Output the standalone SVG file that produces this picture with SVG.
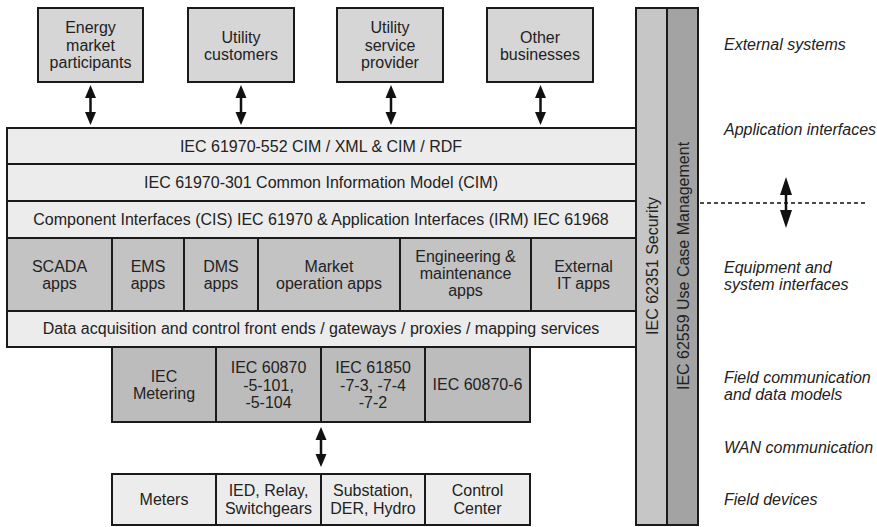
<svg xmlns="http://www.w3.org/2000/svg" width="877" height="527" viewBox="0 0 877 527">
<style>
  text { font-family: "Liberation Sans", Arial, sans-serif; font-size: 16px; fill: #222; text-anchor: middle; }
  .lbl { text-anchor: start; font-style: italic; }
  .ext { fill: #d6d6d6; stroke: #1a1a1a; stroke-width: 2; }
  .layer { fill: #ececec; stroke: #1a1a1a; stroke-width: 2; }
  .app { fill: #c3c3c3; stroke: #1a1a1a; stroke-width: 2; }
  .field { fill: #bcbcbc; stroke: #1a1a1a; stroke-width: 2; }
  .dev { fill: #ececec; stroke: #1a1a1a; stroke-width: 2; }
  .sec { fill: #c6c6c6; stroke: #1a1a1a; stroke-width: 2; }
  .uc { fill: #a3a3a3; stroke: #1a1a1a; stroke-width: 2; }
  .shaft { stroke: #111; stroke-width: 2.5; fill: none; }
  .head { fill: #111; }
</style>
<defs>
  <g id="dbl">
    <polygon class="head" points="0,0 -5.5,13 5.5,13"/>
    <polygon class="head" points="0,40 -5.5,27 5.5,27"/>
    <line class="shaft" x1="0" y1="11" x2="0" y2="29"/>
  </g>
</defs>

<!-- External systems -->
<g id="ext-energy"><rect class="ext" x="38" y="8" width="105" height="74"/>
  <text x="90.5" y="33">Energy</text><text x="90.5" y="50.5">market</text><text x="90.5" y="68">participants</text></g>
<g id="ext-customers"><rect class="ext" x="188" y="8" width="106" height="74"/>
  <text x="241" y="42.5">Utility</text><text x="241" y="60">customers</text></g>
<g id="ext-provider"><rect class="ext" x="337" y="8" width="106" height="74"/>
  <text x="390" y="33">Utility</text><text x="390" y="50.5">service</text><text x="390" y="68">provider</text></g>
<g id="ext-other"><rect class="ext" x="487" y="8" width="106" height="74"/>
  <text x="540" y="42.5">Other</text><text x="540" y="60">businesses</text></g>

<!-- Layers -->
<g id="layer-552"><rect class="layer" x="7" y="128" width="629" height="36"/>
  <text x="321" y="152">IEC 61970-552 CIM / XML &amp; CIM / RDF</text></g>
<g id="layer-301"><rect class="layer" x="7" y="164" width="629" height="37"/>
  <text x="321" y="188">IEC 61970-301 Common Information Model (CIM)</text></g>
<g id="layer-cis"><rect class="layer" x="7" y="201" width="629" height="37"/>
  <text x="321" y="225">Component Interfaces (CIS) IEC 61970 &amp; Application Interfaces (IRM) IEC 61968</text></g>

<!-- Apps -->
<g id="app-scada"><rect class="app" x="7" y="238" width="105" height="73"/>
  <text x="59.5" y="272">SCADA</text><text x="59.5" y="289">apps</text></g>
<g id="app-ems"><rect class="app" x="112" y="238" width="72" height="73"/>
  <text x="148" y="272">EMS</text><text x="148" y="289">apps</text></g>
<g id="app-dms"><rect class="app" x="184" y="238" width="74" height="73"/>
  <text x="221" y="272">DMS</text><text x="221" y="289">apps</text></g>
<g id="app-market"><rect class="app" x="258" y="238" width="142" height="73"/>
  <text x="329" y="272">Market</text><text x="329" y="289">operation apps</text></g>
<g id="app-eng"><rect class="app" x="400" y="238" width="131" height="73"/>
  <text x="465.5" y="262">Engineering &amp;</text><text x="465.5" y="279">maintenance</text><text x="465.5" y="296">apps</text></g>
<g id="app-extit"><rect class="app" x="531" y="238" width="105" height="73"/>
  <text x="583.5" y="272">External</text><text x="583.5" y="289">IT apps</text></g>

<g id="layer-daq"><rect class="layer" x="7" y="311" width="629" height="36"/>
  <text x="321" y="334">Data acquisition and control front ends / gateways / proxies / mapping services</text></g>

<!-- Field communication -->
<g id="fc-metering"><rect class="field" x="112" y="347" width="104" height="75"/>
  <text x="164" y="382">IEC</text><text x="164" y="399">Metering</text></g>
<g id="fc-60870"><rect class="field" x="216" y="347" width="105" height="75"/>
  <text x="268.5" y="373">IEC 60870</text><text x="268.5" y="390.5">-5-101,</text><text x="268.5" y="408">-5-104</text></g>
<g id="fc-61850"><rect class="field" x="321" y="347" width="104" height="75"/>
  <text x="373" y="373">IEC 61850</text><text x="373" y="390.5">-7-3, -7-4</text><text x="373" y="408">-7-2</text></g>
<g id="fc-60870-6"><rect class="field" x="425" y="347" width="105" height="75"/>
  <text x="477.5" y="390">IEC 60870-6</text></g>

<!-- Field devices -->
<g id="dev-meters"><rect class="dev" x="112" y="474" width="104" height="51"/>
  <text x="164" y="505">Meters</text></g>
<g id="dev-ied"><rect class="dev" x="216" y="474" width="105" height="51"/>
  <text x="268.5" y="496">IED, Relay,</text><text x="268.5" y="513.5">Switchgears</text></g>
<g id="dev-substation"><rect class="dev" x="321" y="474" width="104" height="51"/>
  <text x="373" y="496">Substation,</text><text x="373" y="513.5">DER, Hydro</text></g>
<g id="dev-control"><rect class="dev" x="425" y="474" width="105" height="51"/>
  <text x="477.5" y="496">Control</text><text x="477.5" y="513.5">Center</text></g>

<!-- Vertical bars -->
<g id="bar-security"><rect class="sec" x="636" y="8" width="31" height="517"/>
  <text transform="translate(657.5,266) rotate(-90)">IEC 62351 Security</text></g>
<g id="bar-usecase"><rect class="uc" x="667" y="8" width="31" height="517"/>
  <text transform="translate(688.5,266) rotate(-90)">IEC 62559 Use Case Management</text></g>

<!-- Connectors -->
<g id="connectors">
  <use href="#dbl" x="90.5" y="85"/>
  <use href="#dbl" x="241" y="85"/>
  <use href="#dbl" x="391" y="85"/>
  <use href="#dbl" x="540.5" y="85"/>
  <use href="#dbl" x="321" y="427"/>
  <line x1="700" y1="203" x2="866" y2="203" stroke="#111" stroke-width="1.5" stroke-dasharray="4,3"/>
  <polygon class="head" points="786,177 780,195 792,195"/>
  <polygon class="head" points="786,228 780,210 792,210"/>
  <line class="shaft" x1="786" y1="193" x2="786" y2="212"/>
</g>

<!-- Right labels -->
<g id="labels">
  <text class="lbl" x="724" y="50">External systems</text>
  <text class="lbl" x="724" y="135">Application interfaces</text>
  <text class="lbl" x="724" y="273">Equipment and</text>
  <text class="lbl" x="724" y="290">system interfaces</text>
  <text class="lbl" x="724" y="383">Field communication</text>
  <text class="lbl" x="724" y="400">and data models</text>
  <text class="lbl" x="724" y="453">WAN communication</text>
  <text class="lbl" x="724" y="505">Field devices</text>
</g>
</svg>
